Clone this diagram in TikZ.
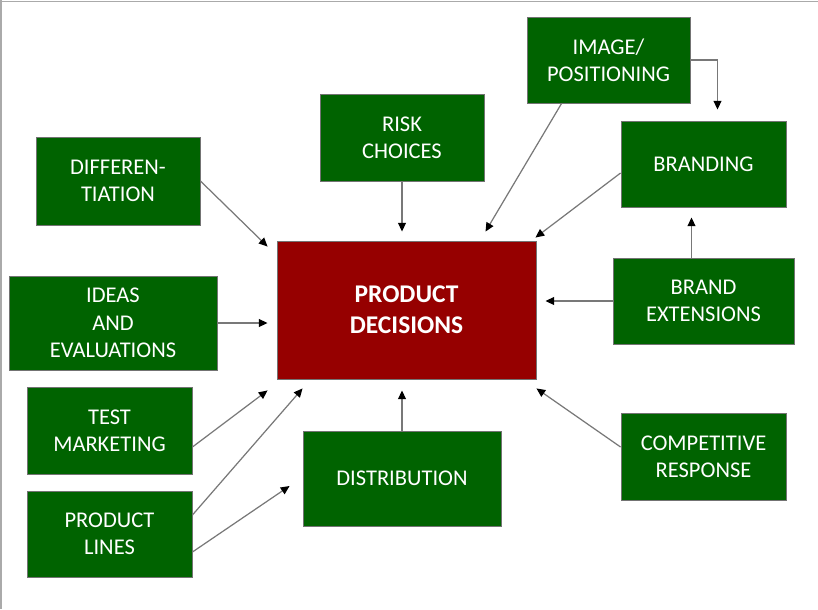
\documentclass[tikz,border=0pt]{standalone}
\usepackage{fontspec}
\setmainfont{Carlito}
\usetikzlibrary{arrows.meta}
\definecolor{boxgreen}{RGB}{0,99,0}
\definecolor{boxred}{RGB}{150,0,0}
\definecolor{linegray}{RGB}{120,120,120}
\definecolor{framegray}{RGB}{170,170,170}
\tikzset{
  arr/.style={draw=linegray,line width=0.7pt,-{Triangle[color=black,length=5pt,width=4.5pt]}},
  gap/.style={shorten >=#1}
}

\begin{document}
\begin{tikzpicture}
[x={(0.02cm,0)},y={(0,-0.02cm)},
 every node/.style={rectangle,fill=boxgreen,draw=black!55,line width=0.5pt,text=white,align=center,
   font=\fontsize{12.8}{15.6}\selectfont,inner sep=0pt}]
  \useasboundingbox (0,0) rectangle (818,609);
  \draw[framegray,line width=1pt] (0,1.5) -- (818,1.5);
  \draw[framegray,line width=1pt] (1,0) -- (1,609);
  % centre box
  \node[fill=boxred,minimum width=259*0.02cm,minimum height=138*0.02cm,
        font=\fontsize{14.5}{17.5}\selectfont\bfseries] (pd) at (406.5,310) {PRODUCT\\DECISIONS};
  % boxes around it
  \node[minimum width=163*0.02cm,minimum height=86*0.02cm] (img) at (608.5,60) {IMAGE/\\POSITIONING};
  \node[minimum width=165*0.02cm,minimum height=86*0.02cm] (brand) at (703.5,164) {BRANDING};
  \node[minimum width=181*0.02cm,minimum height=86*0.02cm] (ext) at (703.5,301) {BRAND\\EXTENSIONS};
  \node[minimum width=164*0.02cm,minimum height=87*0.02cm] (risk) at (402,137.5) {RISK\\CHOICES};
  \node[minimum width=164*0.02cm,minimum height=88*0.02cm] (diff) at (118,181) {DIFFEREN-\\TIATION};
  \node[minimum width=208*0.02cm,minimum height=94*0.02cm] (ideas) at (113,323) {IDEAS\\AND\\EVALUATIONS};
  \node[minimum width=165*0.02cm,minimum height=87*0.02cm] (test) at (109.5,430.5) {TEST\\MARKETING};
  \node[minimum width=165*0.02cm,minimum height=86*0.02cm] (lines) at (109.5,534) {PRODUCT\\LINES};
  \node[minimum width=198*0.02cm,minimum height=95*0.02cm] (distr) at (402,478.5) {DISTRIBUTION};
  \node[minimum width=165*0.02cm,minimum height=87*0.02cm] (comp) at (703.5,456.5) {COMPETITIVE\\RESPONSE};

  % straight arrows into the centre
  \draw[arr,gap=0.18cm] (ideas.east) -- (ideas.east -| pd.west);
  \draw[arr,gap=0.18cm] (risk.south) -- (risk.south |- pd.north);
  \draw[arr,gap=0.18cm] (ext.west) -- (ext.west -| pd.east);
  \draw[arr,gap=0.22cm] (distr.north) -- (distr.north |- pd.south);
  % slanted ones
  \foreach \from/\fx/\fy/\to/\tx/\ty in {diff.east/0/0/pd.north west/-9/6,
                                         img.south west/35/0/pd.north/79/-9,
                                         brand.west/0/9/pd.north east/-1/-3,
                                         comp.west/0/-9.5/pd.south east/0/9,
                                         test.east/0/16.5/pd.south west/-9/11,
                                         lines.east/0/-19/pd.south west/26/9,
                                         lines.east/0/18/distr.west/-13/7.5}
    \draw[arr] ([shift={(\fx,\fy)}]\from) -- ([shift={(\tx,\ty)}]\to);
  % branding links
  \draw[arr,gap=0.22cm] (img.east) -| ([shift={(14,0)}]brand.north);
  \draw[arr] ([shift={(-12,0)}]ext.north) -- ([shift={(-12,10)}]brand.south);

\end{tikzpicture}
\end{document}
